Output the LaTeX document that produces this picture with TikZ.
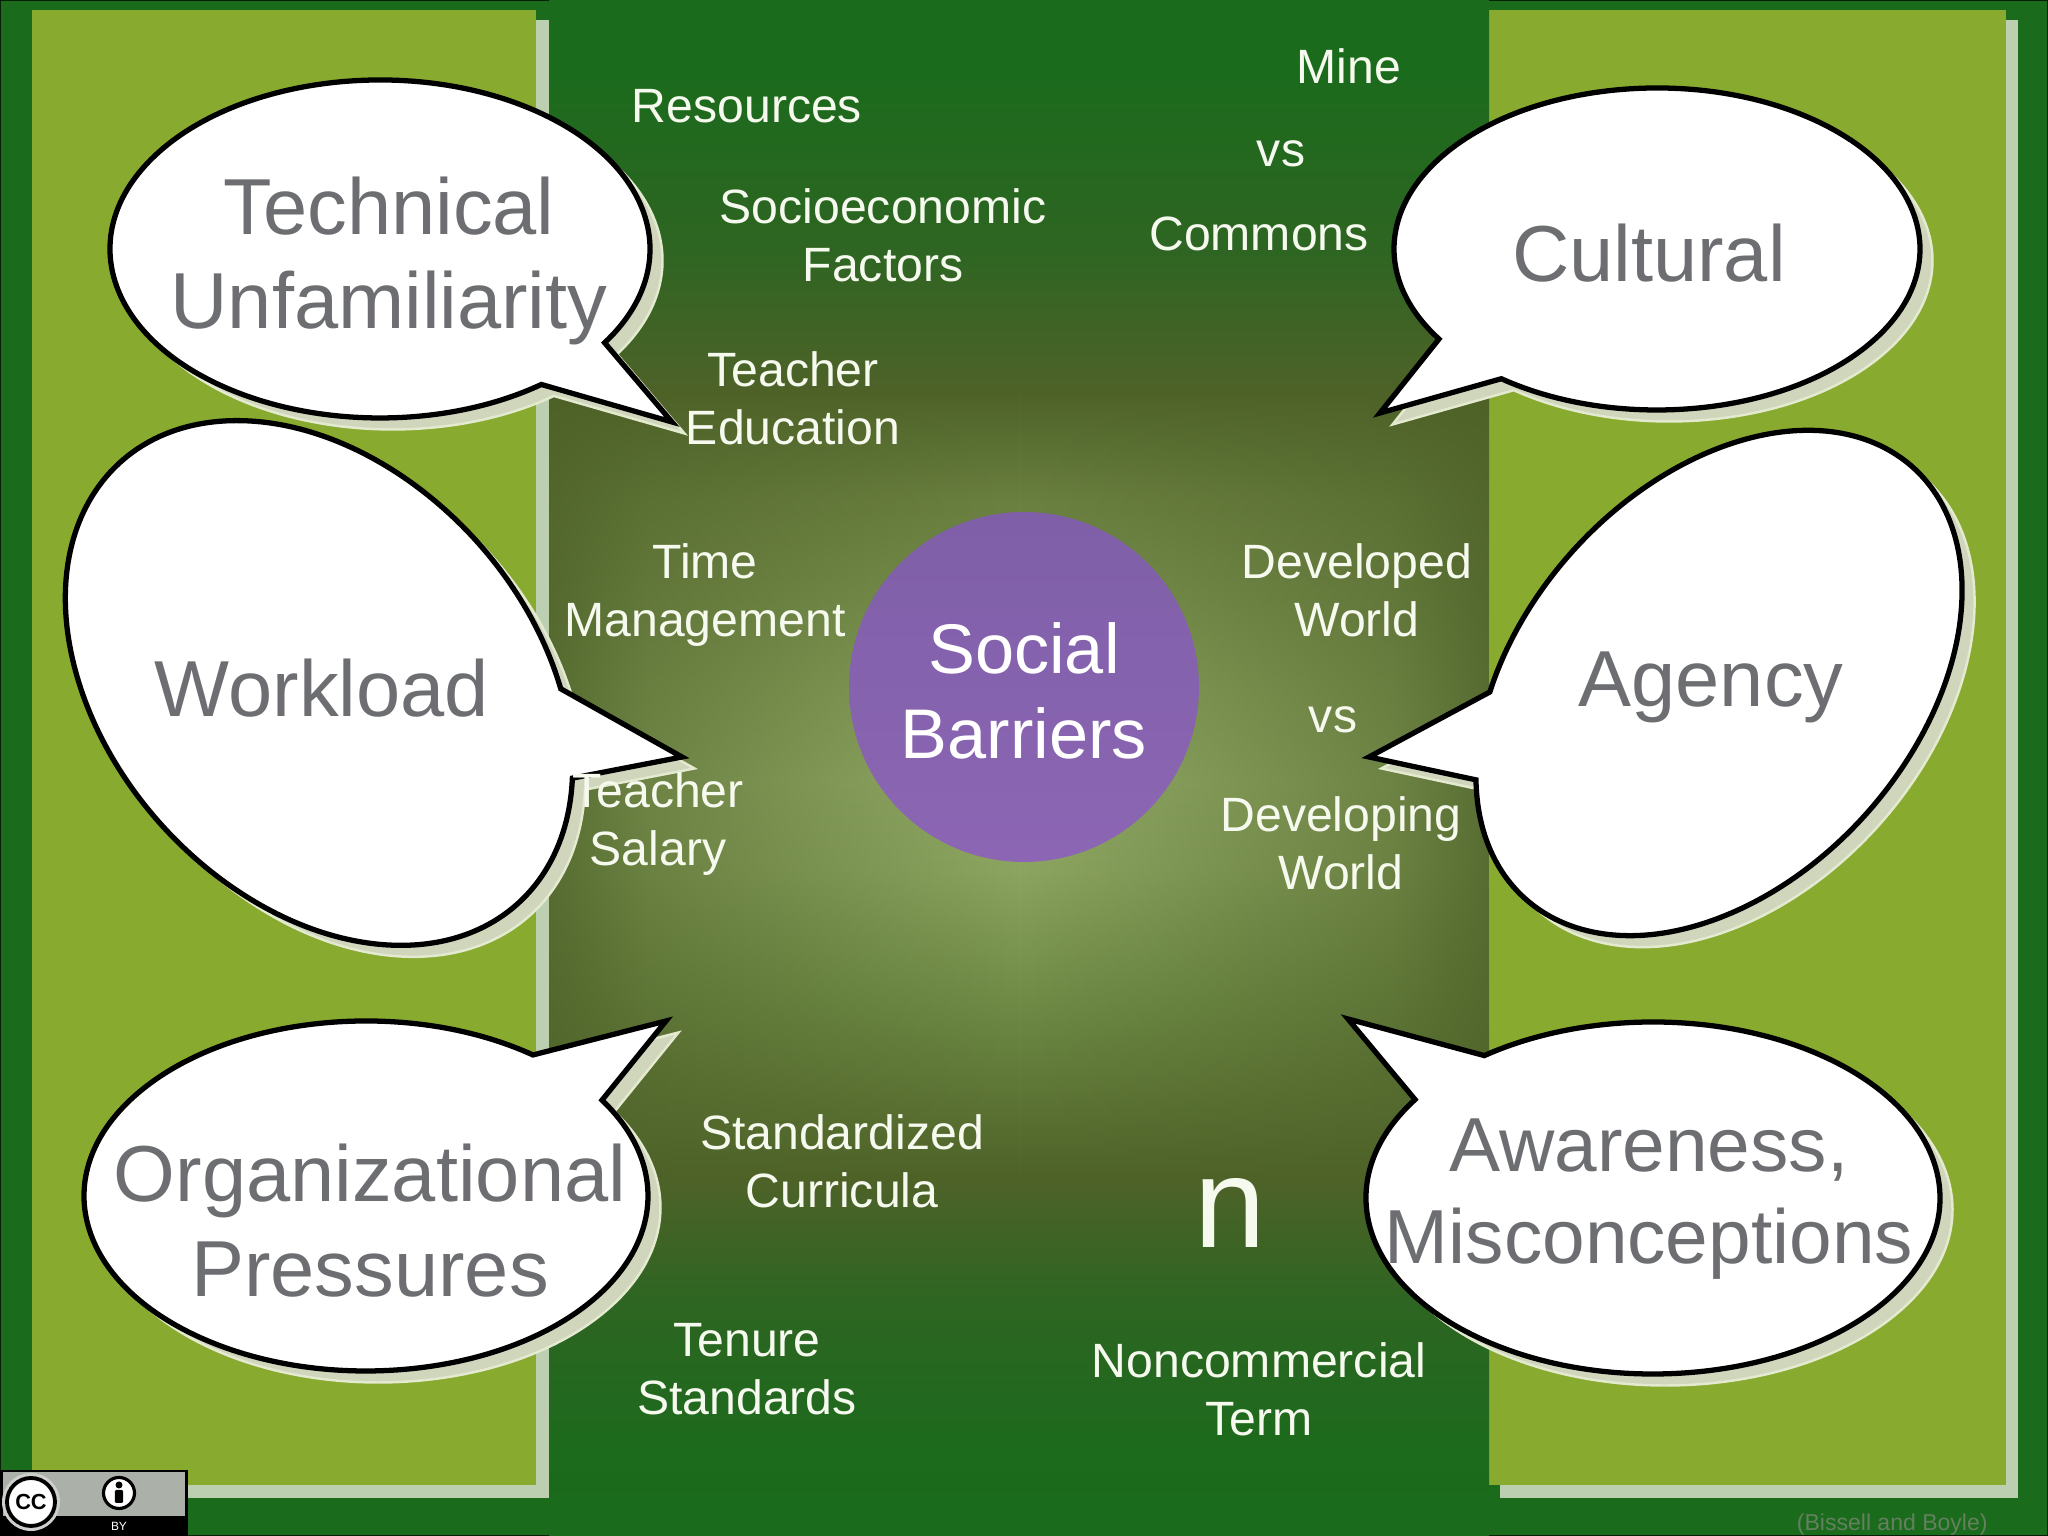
\documentclass[tikz,border=0pt]{standalone}
\usepackage{xcolor}
\usepackage{fontspec}
\usetikzlibrary{fadings}
\setmainfont{Liberation Sans}
\definecolor{SBGreen}{HTML}{1A6B1C}
\definecolor{SBPanel}{HTML}{88AA2F}
\definecolor{SBStrip}{HTML}{BCCFB1}
\definecolor{SBShadow}{HTML}{D0D6BC}
\definecolor{SBShadowEdge}{HTML}{E4EAD0}
\definecolor{SBGrey}{HTML}{6D6E71}
\definecolor{SBPurpleTop}{HTML}{7F5FA8}
\definecolor{SBPurpleLow}{HTML}{8C66B4}
\definecolor{SBText}{HTML}{F6F9EE}
\definecolor{SBNote}{HTML}{64805F}
\definecolor{SBBadge}{HTML}{ABB0A8}
\definecolor{SBGlowA}{HTML}{92AA66}
\definecolor{SBGlowB}{HTML}{8CA560}
\definecolor{SBGlowC}{HTML}{6F8B46}
\definecolor{SBGlowD}{HTML}{4E6228}
\definecolor{SBGlowE}{HTML}{2E6522}
\definecolor{SBGlowF}{HTML}{1C6A1C}
\definecolor{SBGlowG}{HTML}{6A8040}
\definecolor{SBGlowH}{HTML}{88A05C}
\pgfdeclareverticalshading{glowband}{100bp}{%
color(0bp)=(SBGreen);
color(25bp)=(SBGreen);
color(27.8bp)=(SBGlowF);
color(32.7bp)=(SBGlowE);
color(36.6bp)=(SBGlowD);
color(42.4bp)=(SBGlowC);
color(46.7bp)=(SBGlowB);
color(49.6bp)=(SBGlowA);
color(52.5bp)=(SBGlowH);
color(58.7bp)=(SBGlowG);
color(62.3bp)=(SBGlowD);
color(66.9bp)=(SBGlowE);
color(73bp)=(SBGreen);
color(100bp)=(SBGreen)}
\pgfdeclarehorizontalshading{glowfade}{100bp}{%
color(0bp)=(transparent!15);
color(25bp)=(transparent!15);
color(30.3bp)=(transparent!47);
color(40bp)=(transparent!74);
color(50bp)=(transparent!100);
color(60bp)=(transparent!74);
color(69.7bp)=(transparent!47);
color(75bp)=(transparent!15);
color(100bp)=(transparent!15)}
\pgfdeclarefading{glowsides}{\pgfuseshading{glowfade}}
\tikzset{
  bubble/.style={fill=white,draw=black,line width=1.5pt,miter limit=10,
    preaction={draw=SBShadowEdge,fill=SBShadow,line width=.7pt,
      transform canvas={shift={(0.125,-0.115)}}}},
  bubbletext/.style={text=SBGrey,align=center,font=\fontsize{22.6}{27}\selectfont},
  smalltext/.style={text=SBText,align=center,font=\fontsize{13.7}{16.5}\selectfont},
}
\begin{document}
\begin{tikzpicture}[x=1cm,y=1cm]
\path[use as bounding box] (0,0) rectangle (20.48,15.36);
\fill[SBGreen] (0,0) rectangle (20.48,15.36);
\draw[black!70!SBGreen,line width=.5pt] (0,0) rectangle (20.48,15.36);
\fill[SBStrip] (0.45,0.38) rectangle (5.49,15.16);
\fill[SBStrip] (15.00,0.38) rectangle (20.18,15.16);
\fill[SBPanel] (0.32,0.51) rectangle (5.36,15.26);
\fill[SBPanel] (14.89,0.51) rectangle (20.06,15.26);
\shade[shading=glowband] (5.49,0) rectangle (14.89,15.36);
\fill[SBGlowD,path fading=glowsides] (5.49,3.56) rectangle (14.89,11.46);
\coordinate (techtip) at (6.72,11.14);
\coordinate (culttip) at (13.80,11.23);
\coordinate (worktip) at (6.82,7.79);
\coordinate (agentip) at (13.69,7.79);
\coordinate (orgatip) at (6.66,5.15);
\coordinate (awaretip) at (13.48,5.17);
\path[bubble,shift={(3.80,12.87)}] (-33.7:2.70 and 1.69) arc[start angle=-33.7,end angle=306.7,x radius=2.70,y radius=1.69] -- (techtip) -- cycle;
\path[bubble,shift={(16.57,12.87)}] (233.7:2.63 and 1.61) arc[start angle=233.7,end angle=574,x radius=2.63,y radius=1.61] -- (culttip) -- cycle;
\path[bubble,shift={(3.19,8.53)},rotate=-48] (56:2.97 and 2.12) arc[start angle=56,end angle=396,x radius=2.97,y radius=2.12] -- (worktip) -- cycle;
\path[bubble,shift={(17.19,8.53)},rotate=48] (144:2.90 and 1.97) arc[start angle=144,end angle=483.5,x radius=2.90,y radius=1.97] -- (agentip) -- cycle;
\path[bubble,shift={(3.66,3.40)}] (53.7:2.82 and 1.75) arc[start angle=53.7,end angle=393.2,x radius=2.82,y radius=1.75] -- (orgatip) -- cycle;
\path[bubble,shift={(16.53,3.38)}] (146:2.87 and 1.76) arc[start angle=146,end angle=486,x radius=2.87,y radius=1.76] -- (awaretip) -- cycle;
\node[circle,top color=SBPurpleTop,bottom color=SBPurpleLow,minimum size=3.50cm,inner sep=0pt] (hub) at (10.24,8.49) {};
\node[text=white,align=center,font=\fontsize{20}{24.2}\selectfont] (hubtext) at (10.24,8.45) {Social\\Barriers};
\node[bubbletext] (technical) at (3.89,12.75) {Technical\\Unfamiliarity};
\node[bubbletext] (workload) at (3.22,8.48) {Workload};
\node[bubbletext] (cultural) at (16.49,12.83) {Cultural};
\node[bubbletext] (agency) at (17.11,8.49) {Agency};
\node[bubbletext] (organizational) at (3.70,3.15) {Organizational\\Pressures};
\node[bubbletext,font=\fontsize{21.8}{26}\selectfont] (awareness) at (16.49,3.37) {Awareness,\\Misconceptions};
\node[smalltext] (resources) at (7.47,14.30) {Resources};
\node[smalltext] (socio) at (8.83,13.01) {Socioeconomic\\Factors};
\node[smalltext] (education) at (7.93,11.38) {Teacher\\Education};
\node[smalltext] (time) at (7.05,9.41) {Time\\Management};
\node[smalltext] (salary) at (6.58,7.12) {Teacher\\Salary};
\node[smalltext] (developed) at (13.57,9.46) {Developed\\World};
\node[smalltext] (vsworld) at (13.33,8.16) {vs};
\node[smalltext] (developing) at (13.41,6.93) {Developing\\World};
\node[smalltext] (mine) at (13.49,14.70) {Mine};
\node[smalltext] (vsmine) at (12.81,13.82) {vs};
\node[smalltext] (commons) at (12.59,13.02) {Commons};
\node[smalltext] (curricula) at (8.42,3.75) {Standardized\\Curricula};
\node[smalltext] (tenure) at (7.47,1.67) {Tenure\\Standards};
\node[smalltext] (noncomm) at (12.59,1.47) {Noncommercial\\Term};
\node[text=SBText,font=\fontsize{36.5}{40}\selectfont] (bign) at (12.30,3.23) {n};
\node[text=SBNote,anchor=east,font=\fontsize{6.55}{8}\selectfont] (source) at (20.00,0.11) {(Bissell and Boyle)};
\fill[black] (0,0) rectangle (1.88,0.66);
\fill[SBBadge] (0.03,0.20) rectangle (1.85,0.64);
\fill[SBBadge!60!white] (0.31,0.34) circle (.29);
\node[circle,fill=white,draw=black,line width=1.1pt,minimum size=.48cm,inner sep=0pt,font=\bfseries\fontsize{6.2}{7}\selectfont] (ccmark) at (0.31,0.34) {CC};
\node[circle,fill=white,draw=black,line width=.9pt,minimum size=.31cm,inner sep=0pt] (bymark) at (1.19,0.43) {};
\fill[black] (1.19,0.51) circle (.035);
\fill[black,rounded corners=.3pt] (1.15,0.46) rectangle (1.23,0.33);
\node[text=white,font=\fontsize{3.4}{4}\selectfont] (bytext) at (1.19,0.10) {BY};
\end{tikzpicture}
\end{document}
